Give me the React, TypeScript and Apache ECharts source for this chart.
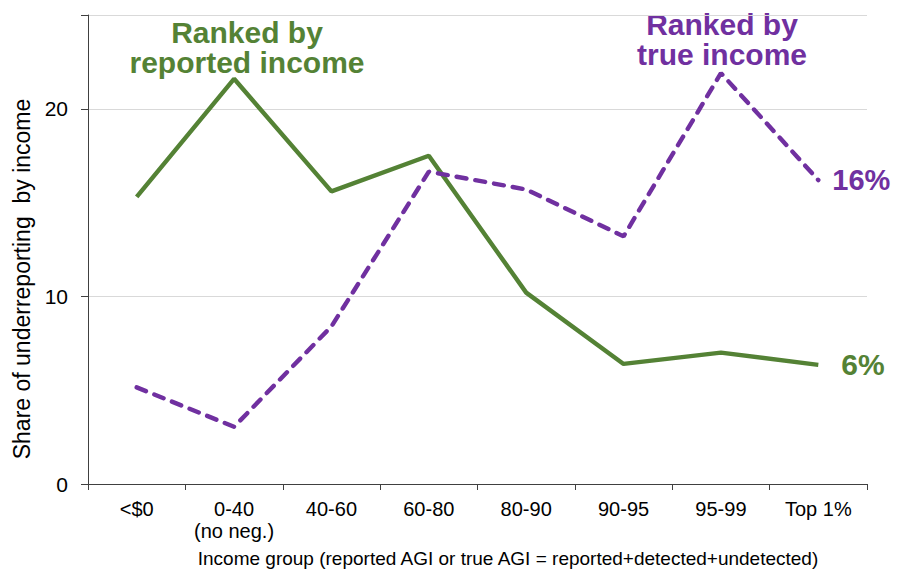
import React, { useEffect, useRef } from "react";
import * as echarts from "echarts";

const categories = ["<$0", "0-40\n(no neg.)", "40-60", "60-80", "80-90", "90-95", "95-99", "Top 1%"];
const reportedRanked = [15.3, 21.6, 15.6, 17.5, 10.2, 6.4, 7.0, 6.35];
const trueRanked = [5.15, 3.05, 8.4, 16.65, 15.7, 13.2, 21.9, 16.2];
const yTicks = [0, 10, 20];

const GREEN = "#548235";
const PURPLE = "#7030A0";
const FONT = "Liberation Sans, Arial, sans-serif";

export default function App() {
  const ref = useRef<HTMLDivElement>(null);
  useEffect(() => {
    document.body.style.margin = "0";
    if (!ref.current) return;
    const chart = echarts.init(ref.current, undefined, { renderer: "svg" });
    const titleText = (text: string, x: number, y: number, color: string) => ({
      type: "text",
      x,
      y,
      style: {
        text,
        align: "center",
        verticalAlign: "middle",
        fill: color,
        font: `bold 30px ${FONT}`,
        lineHeight: 30,
      },
    });
    chart.setOption({
      animation: false,
      textStyle: { fontFamily: FONT },
      grid: { left: 88, right: 30, top: 15, bottom: 87 },
      xAxis: {
        type: "category",
        data: categories,
        boundaryGap: true,
        axisLine: { lineStyle: { color: "#404040", width: 1 } },
        axisTick: { show: true, length: 6, lineStyle: { color: "#404040" } },
        axisLabel: { fontSize: 20, color: "#000", margin: 14, lineHeight: 22, fontFamily: FONT, interval: 0 },
      },
      yAxis: {
        type: "value",
        min: 0,
        max: 25,
        interval: 10,
        axisLine: { show: true, lineStyle: { color: "#404040", width: 1 } },
        axisTick: { show: true, length: 7, lineStyle: { color: "#404040" } },
        axisLabel: {
          fontSize: 21,
          color: "#000",
          margin: 20,
          fontFamily: FONT,
          formatter: (v: number) => (yTicks.includes(v) ? String(v) : ""),
        },
        splitLine: { show: true, lineStyle: { color: "#d9d9d9", width: 1 } },
      },
      series: [
        {
          type: "line",
          data: reportedRanked,
          symbol: "none",
          lineStyle: { color: GREEN, width: 4.4 },
          itemStyle: { color: GREEN },
          endLabel: {
            show: true,
            formatter: "6%",
            color: GREEN,
            fontSize: 30,
            fontWeight: "bold",
            fontFamily: FONT,
            distance: 23,
          },
        },
        {
          type: "line",
          data: trueRanked,
          symbol: "none",
          lineStyle: { color: PURPLE, width: 4.4, type: [10, 9], cap: "round" },
          itemStyle: { color: PURPLE },
          endLabel: {
            show: true,
            formatter: "16%",
            color: PURPLE,
            fontSize: 29,
            fontWeight: "bold",
            fontFamily: FONT,
            distance: 14,
          },
        },
      ],
      graphic: [
        titleText("Ranked by\nreported income", 247, 47, GREEN),
        titleText("Ranked by\ntrue income", 722, 39, PURPLE),
        {
          type: "text",
          x: 22,
          y: 279,
          rotation: Math.PI / 2,
          style: {
            text: "Share of underreporting  by income",
            align: "center",
            verticalAlign: "middle",
            fill: "#000",
            font: `23px ${FONT}`,
          },
        },
        {
          type: "text",
          x: 508,
          y: 558,
          style: {
            text: "Income group (reported AGI or true AGI = reported+detected+undetected)",
            align: "center",
            verticalAlign: "middle",
            fill: "#000",
            font: `19px ${FONT}`,
          },
        },
      ],
    });
    return () => chart.dispose();
  }, []);
  return <div ref={ref} style={{ width: 897, height: 571 }} />;
}
